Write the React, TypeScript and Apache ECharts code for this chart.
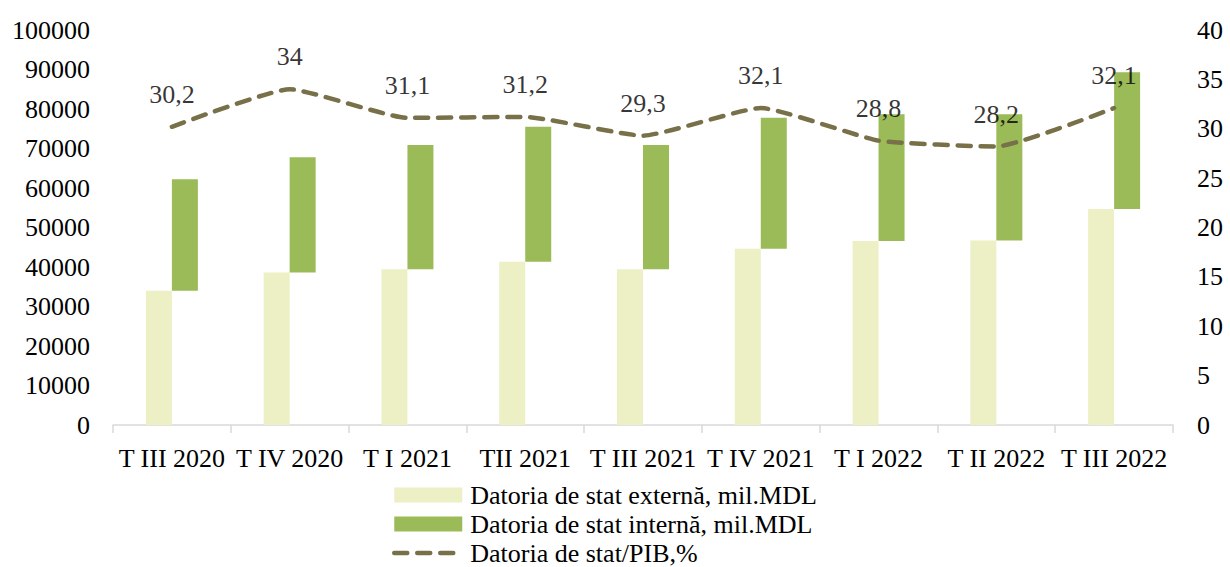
import React, { useEffect, useRef } from "react";
import * as echarts from "echarts";

const categories = [
  "T III 2020",
  "T IV 2020",
  "T I 2021",
  "TII 2021",
  "T III 2021",
  "T IV 2021",
  "T I 2022",
  "T II 2022",
  "T III 2022",
];
const externalDebt = [34000, 38600, 39400, 41300, 39400, 44600, 46600, 46700, 54700];
const internalDebt = [28200, 29200, 31500, 34200, 31500, 33200, 32100, 32000, 34600];
const debtToGdp = [30.2, 34, 31.1, 31.2, 29.3, 32.1, 28.8, 28.2, 32.1];

const leftTicks = { min: 0, max: 100000, interval: 10000 };
const rightTicks = { min: 0, max: 40, interval: 5 };

const NAME_EXT = "Datoria de stat externă, mil.MDL";
const NAME_INT = "Datoria de stat internă, mil.MDL";
const NAME_LINE = "Datoria de stat/PIB,%";

const FONT = "Liberation Serif";
const LINE_COLOR = "#787048";

export default function App() {
  const ref = useRef<HTMLDivElement>(null);

  useEffect(() => {
    if (!ref.current) return;
    const chart = echarts.init(ref.current, undefined, { renderer: "svg" });
    const textBase = { fontFamily: FONT, fontSize: 26, color: "#000" };
    const dashStyle = { color: LINE_COLOR, width: 4.5, type: [13, 10], cap: "round" };
    chart.setOption({
      animation: false,
      backgroundColor: "#fff",
      grid: { left: 113, right: 57, top: 30, bottom: 142, containLabel: false },
      legend: {
        orient: "vertical",
        left: 387,
        top: 477,
        height: 86,
        itemWidth: 68,
        itemHeight: 15,
        itemGap: 3,
        data: [
          { name: NAME_EXT, icon: "rect" },
          { name: NAME_INT, icon: "rect" },
          { name: NAME_LINE, itemStyle: { opacity: 0 }, lineStyle: dashStyle },
        ],
        textStyle: { ...textBase, lineHeight: 26, padding: [0, 0, 0, 3] },
      },
      xAxis: {
        type: "category",
        data: categories,
        axisLine: { lineStyle: { color: "#d9d9d9", width: 1.5 } },
        axisTick: { show: true, length: 8, lineStyle: { color: "#d9d9d9", width: 1.5 } },
        axisLabel: { ...textBase, margin: 20, interval: 0 },
      },
      yAxis: [
        {
          type: "value",
          ...leftTicks,
          splitLine: { show: false },
          axisLine: { show: false },
          axisTick: { show: false },
          axisLabel: { ...textBase, margin: 23, formatter: (v: number) => String(v) },
        },
        {
          type: "value",
          ...rightTicks,
          position: "right",
          splitLine: { show: false },
          axisLine: { show: false },
          axisTick: { show: false },
          axisLabel: { ...textBase, margin: 24, formatter: (v: number) => String(v) },
        },
      ],
      series: [
        {
          name: NAME_EXT,
          type: "bar",
          data: externalDebt,
          barWidth: 26,
          barGap: "0%",
          itemStyle: { color: "#ecf0c4" },
          yAxisIndex: 0,
        },
        {
          name: "base",
          type: "bar",
          stack: "int",
          data: externalDebt,
          barWidth: 26,
          barGap: "0%",
          itemStyle: { color: "transparent" },
          silent: true,
          yAxisIndex: 0,
        },
        {
          name: NAME_INT,
          type: "bar",
          stack: "int",
          data: internalDebt,
          barWidth: 26,
          barGap: "0%",
          itemStyle: { color: "#9bbb59" },
          yAxisIndex: 0,
        },
        {
          name: NAME_LINE,
          type: "line",
          yAxisIndex: 1,
          data: debtToGdp,
          smooth: 0.15,
          symbol: "none",
          lineStyle: dashStyle,
          itemStyle: { color: LINE_COLOR },
          z: 5,
        },
        {
          name: "labels",
          type: "scatter",
          yAxisIndex: 1,
          data: debtToGdp,
          symbol: "circle",
          symbolSize: 1,
          itemStyle: { color: "rgba(0,0,0,0)" },
          silent: true,
          label: {
            show: true,
            position: "top",
            distance: 19,
            ...textBase,
            lineHeight: 26,
            formatter: (p: any) => String(p.value).replace(".", ","),
          },
          z: 6,
        },
      ],
    });
    return () => chart.dispose();
  }, []);

  return (
    <div
      ref={ref}
      style={{ position: "fixed", left: 0, top: 0, width: 1230, height: 567 }}
    />
  );
}
